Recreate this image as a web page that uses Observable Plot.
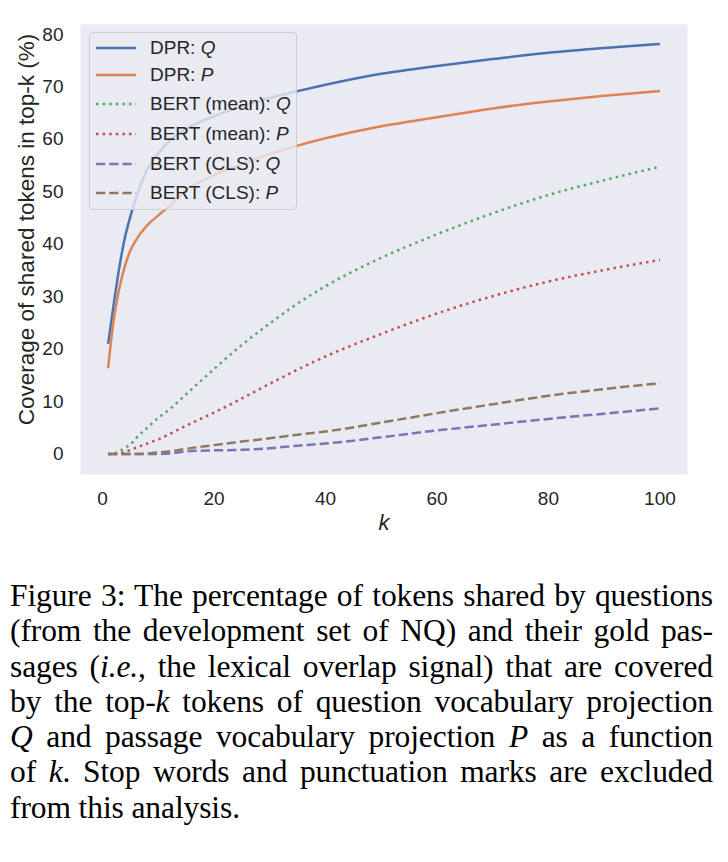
<!DOCTYPE html>
<html>
<head>
<meta charset="utf-8">
<script src="https://cdn.jsdelivr.net/npm/d3@7"></script>
<script src="https://cdn.jsdelivr.net/npm/@observablehq/plot@0.6"></script>
<style>
  html, body { margin: 0; padding: 0; background: #ffffff; }
  #wrap { position: relative; width: 728px; }
  #chart { height: 545px; }
  #legend {
    position: absolute; left: 89px; top: 32px; width: 208px; height: 178px;
    background: rgba(234,234,242,0.8); border: 1px solid #cccccc; border-radius: 4px;
    box-sizing: border-box;
    font-family: "Liberation Sans", Arial, sans-serif; font-size: 19px; color: #262626;
  }
  .row { position: absolute; left: 0; height: 0; }
  .row svg { position: absolute; left: 6px; top: -3px; }
  .row span { position: absolute; left: 60px; top: -11px; white-space: nowrap; line-height: 22px; }
  #caption {
    margin: 33px 0 0 10px; width: 703px;
    font-family: "Liberation Serif", "Times New Roman", serif; font-size: 31.5px; color: #000;
    line-height: 35.3px; letter-spacing: -0.1px;
  }
  #caption div { white-space: nowrap; text-align: justify; text-align-last: justify; }
  #caption div.last { text-align-last: left; }
</style>
</head>
<body>
<div id="wrap">
  <div id="chart"></div>
  <div id="legend"></div>
  <div id="caption">
    <div>Figure 3: The percentage of tokens shared by questions</div>
    <div>(from the development set of NQ) and their gold pas-</div>
    <div>sages (<i>i.e.</i>, the lexical overlap signal) that are covered</div>
    <div>by the top-<i>k</i> tokens of question vocabulary projection</div>
    <div><i>Q</i> and passage vocabulary projection <i>P</i> as a function</div>
    <div>of <i>k</i>. Stop words and punctuation marks are excluded</div>
    <div class="last">from this analysis.</div>
  </div>
</div>
<script>
// ---- data ----
const kValues = [1, 2, 3, 4, 5, 6, 8, 10, 12, 15, 20, 25, 30, 35, 40, 50, 60, 70, 80, 90, 100];
const dprQ      = [21, 28.5, 35.5, 41.2, 45.3, 48.8, 54.2, 57.3, 59.7, 62.0, 64.4, 66.3, 67.9, 69.2, 70.4, 72.5, 74.0, 75.3, 76.5, 77.4, 78.2];
const dprP      = [16.4, 25.5, 31.5, 35.8, 38.8, 40.8, 43.6, 45.5, 47.3, 50.3, 53.2, 55.3, 57.2, 58.8, 60.2, 62.5, 64.2, 65.9, 67.2, 68.3, 69.2];
const bertMeanQ = [0, 0.1, 0.5, 1.2, 1.8, 3.0, 5.0, 6.9, 8.5, 11.4, 16.2, 20.8, 24.9, 28.7, 32.0, 37.4, 41.9, 45.9, 49.4, 52.2, 54.8];
const bertMeanP = [0, 0, 0.2, 0.4, 0.8, 1.2, 2.0, 2.8, 3.8, 5.4, 7.9, 10.6, 13.4, 16.1, 18.6, 22.9, 26.8, 30.1, 32.9, 35.1, 37.0];
const bertClsQ  = [0, 0, 0, 0, 0, 0, 0, 0, 0.1, 0.5, 0.7, 0.8, 1.1, 1.6, 2.0, 3.2, 4.5, 5.6, 6.7, 7.7, 8.7];
const bertClsP  = [0, 0, 0, 0, 0, 0, 0.1, 0.3, 0.5, 1.0, 1.7, 2.4, 3.0, 3.7, 4.3, 6.0, 7.8, 9.5, 11.1, 12.4, 13.5];

const seriesNames = ["DPR: Q", "DPR: P", "BERT (mean): Q", "BERT (mean): P", "BERT (CLS): Q", "BERT (CLS): P"];
const seriesValues = [dprQ, dprP, bertMeanQ, bertMeanP, bertClsQ, bertClsP];
const seriesColors = ["#4c72b0", "#dd8452", "#55a868", "#c44e52", "#8172b3", "#937860"];
const seriesDash = ["none", "none", "2.5,4.1", "2.5,4.1", "9.25,4", "9.25,4"];
const xTicks = [0, 20, 40, 60, 80, 100];
const yTicks = [0, 10, 20, 30, 40, 50, 60, 70, 80];

const rows = [];
seriesNames.forEach((name, i) => {
  kValues.forEach((k, j) => rows.push({series: name, k, v: seriesValues[i][j]}));
});

const lineMarks = seriesNames.map((name, i) =>
  Plot.line(rows.filter(d => d.series === name), {
    x: "k", y: "v", stroke: seriesColors[i], strokeWidth: 2.5,
    strokeDasharray: seriesDash[i], curve: "monotone-x", strokeLinecap: "butt"
  })
);

const chart = Plot.plot({
  width: 728,
  height: 545,
  marginLeft: 80,
  marginRight: 41,
  marginTop: 24,
  marginBottom: 71,
  style: {fontFamily: "'Liberation Sans', Arial, sans-serif", fontSize: "19px", color: "#262626", background: "#ffffff"},
  x: {domain: [-3.95, 104.95], ticks: xTicks, tickSize: 0, tickPadding: 17, label: "k", labelAnchor: "center", labelArrow: "none", labelOffset: 55},
  y: {domain: [-3.9, 81.9], ticks: yTicks, tickSize: 0, tickPadding: 17, label: "Coverage of shared tokens in top-k (%)", labelAnchor: "center", labelArrow: "none", labelOffset: 62},
  marks: [
    Plot.frame({fill: "#eaeaf2", stroke: "none"}),
    ...lineMarks
  ]
});
document.getElementById("chart").appendChild(chart);

// axis label styling
d3.select(chart).selectAll("g[aria-label='x-axis label'] text").style("font-style", "italic").style("font-size", "22px");
d3.select(chart).selectAll("g[aria-label='y-axis label'] text").style("font-size", "22.5px").attr("dx", 20);

// legend
const legend = document.getElementById("legend");
const rowY = [15, 42, 70.5, 100.5, 130.5, 159.5];
seriesNames.forEach((name, i) => {
  const r = document.createElement("div");
  r.className = "row";
  r.style.top = rowY[i] + "px";
  const parts = name.split(": ");
  r.innerHTML = `<svg width="40" height="6"><line x1="0" x2="40" y1="3" y2="3" stroke="${seriesColors[i]}" stroke-width="2.5" stroke-dasharray="${seriesDash[i]}"/></svg><span>${parts[0]}: <i>${parts[1]}</i></span>`;
  legend.appendChild(r);
});
</script>
</body>
</html>
